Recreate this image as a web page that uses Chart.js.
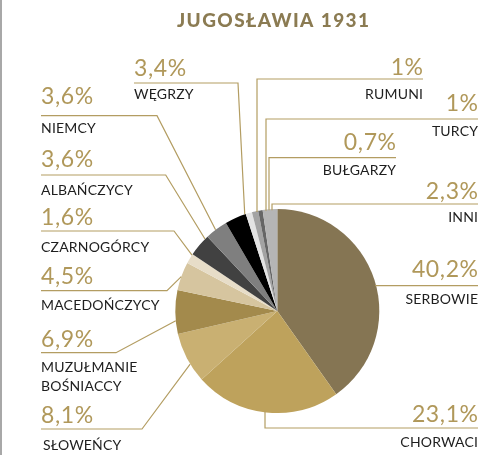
<!DOCTYPE html>
<html lang="pl">
<head>
<meta charset="utf-8">
<title>Jugosławia 1931</title>
<script src="https://cdn.jsdelivr.net/npm/chart.js@4/dist/chart.umd.min.js"></script>
<style>
  html, body { margin: 0; padding: 0; background: #fff; }
  canvas { display: block; }
</style>
</head>
<body>
<canvas id="c" width="500" height="455"></canvas>
<script>
// Struktura narodowościowa Jugosławii, 1931 (%)
const groups = ['SERBOWIE', 'CHORWACI', 'SŁOWEŃCY', 'MUZUŁMANIE BOŚNIACCY', 'MACEDOŃCZYCY',
  'CZARNOGÓRCY', 'ALBAŃCZYCY', 'NIEMCY', 'WĘGRZY', 'RUMUNI', 'TURCY', 'BUŁGARZY', 'INNI'];
const shares = [40.2, 23.1, 8.1, 6.9, 4.5, 1.6, 3.6, 3.6, 3.4, 1, 1, 0.7, 2.3];
const nameLines = [['SERBOWIE'], ['CHORWACI'], ['SŁOWEŃCY'], ['MUZUŁMANIE', 'BOŚNIACCY'], ['MACEDOŃCZYCY'],
  ['CZARNOGÓRCY'], ['ALBAŃCZYCY'], ['NIEMCY'], ['WĘGRZY'], ['RUMUNI'], ['TURCY'], ['BUŁGARZY'], ['INNI']];

const sliceColors = ['#857553', '#bea25c', '#c9b072', '#a38a4c', '#d6c59f', '#e7ddc8',
  '#414141', '#7f7f7f', '#000000', '#e3e3e3', '#a3a3a3', '#666666', '#b5b5b5'];

const GOLD = '#b0985a';
const LINE = '#b39d62';
const INK = '#1e1e1e';
const FONT = 'Lato, "Open Sans", sans-serif';

// Label placement: text anchor, leader line height, elbow, baselines.
// kind 'diag'  : horizontal rule then a slanted line to the slice edge
// kind 'vert'  : horizontal rule then a vertical drop/rise to the rim
// kind 'flat'  : horizontal rule running straight into the rim
const labelLayout = [
  { kind: 'flat', align: 'right', tx: 478, ly: 285.7, py: 277, ny: [304] },             // Serbowie
  { kind: 'vert', align: 'right', tx: 478, ly: 428, ex: 265, py: 422, ny: [447] },      // Chorwaci
  { kind: 'diag', align: 'left', tx: 41, ly: 429, ex: 142, py: 423, ny: [450], f: 0.37 },// Słoweńcy
  { kind: 'diag', align: 'left', tx: 41, ly: 352.7, ex: 116, py: 347, ny: [372, 391], f: 0.3 },
  { kind: 'diag', align: 'left', tx: 41, ly: 290.7, ex: 167, py: 284, ny: [310], f: 0.48 },
  { kind: 'diag', align: 'left', tx: 41, ly: 231, ex: 174, py: 225, ny: [252], f: 0.9 },
  { kind: 'diag', align: 'left', tx: 41, ly: 175, ex: 165.7, py: 166.7, ny: [195], f: 0.85 },
  { kind: 'diag', align: 'left', tx: 41, ly: 115.7, ex: 157, py: 104, ny: [133], f: 0.46 },
  { kind: 'diag', align: 'left', tx: 134, ly: 83, ex: 238, py: 76, ny: [99], f: 0.95 },  // Węgrzy
  { kind: 'vert', align: 'right', tx: 423, ly: 79, ex: 257, py: 75, ny: [99] },          // Rumuni
  { kind: 'vert', align: 'right', tx: 478, ly: 119, ex: 266, py: 111, ny: [136] },       // Turcy
  { kind: 'vert', align: 'right', tx: 396, ly: 157.7, ex: 269, py: 150, ny: [175] },     // Bułgarzy
  { kind: 'vert', align: 'right', tx: 478, ly: 204, ex: 272, py: 199, ny: [222] }        // Inni
];

function fmtPct(v) {
  return String(v).replace('.', ',') + '%';
}

// letter-spaced text with explicit alignment handling
function spacedText(ctx, text, x, y, spacing, align) {
  ctx.letterSpacing = spacing + 'px';
  const w = ctx.measureText(text).width - spacing;
  ctx.textAlign = 'left';
  let sx = x;
  if (align === 'center') sx = x - w / 2;
  else if (align === 'right') sx = x - w;
  ctx.fillText(text, sx, y);
  ctx.letterSpacing = '0px';
}

const calloutPlugin = {
  id: 'callouts',
  afterDraw(chart) {
    const ctx = chart.ctx;
    const arcs = chart.getDatasetMeta(0).data;
    ctx.save();
    ctx.textBaseline = 'alphabetic';

    // frame edge on the left
    ctx.fillStyle = '#a8a8a8';
    ctx.fillRect(0, 0, 2, chart.height);

    // heading
    ctx.fillStyle = '#8b7b52';
    ctx.font = '900 19px ' + FONT;
    spacedText(ctx, 'JUGOSŁAWIA 1931', 273, 26.5, 1.4, 'center');

    arcs.forEach((arc, i) => {
      const L = labelLayout[i];
      const cx = arc.x, cy = arc.y, r = arc.outerRadius;
      ctx.strokeStyle = LINE;
      ctx.lineWidth = 1.2;
      ctx.beginPath();
      if (L.kind === 'diag') {
        const a = arc.startAngle + (arc.endAngle - arc.startAngle) * L.f;
        const px = cx + r * Math.cos(a), py = cy + r * Math.sin(a);
        ctx.moveTo(L.tx, L.ly);
        ctx.lineTo(L.ex, L.ly);
        ctx.lineTo(px, py);
      } else if (L.kind === 'vert') {
        const dx = L.ex - cx;
        const h = Math.sqrt(Math.max(0, r * r - dx * dx));
        const rimY = L.ly < cy ? cy - h + 1 : cy + h - 1;
        ctx.moveTo(L.tx, L.ly);
        ctx.lineTo(L.ex, L.ly);
        ctx.lineTo(L.ex, rimY);
      } else {
        const dy = L.ly - cy;
        const rimX = cx + Math.sqrt(Math.max(0, r * r - dy * dy)) - 1;
        ctx.moveTo(L.tx, L.ly);
        ctx.lineTo(rimX, L.ly);
      }
      ctx.stroke();

      ctx.fillStyle = GOLD;
      ctx.font = '400 23px ' + FONT;
      spacedText(ctx, fmtPct(shares[i]), L.tx, L.py, 0.6, L.align);

      ctx.fillStyle = INK;
      ctx.font = '400 14px ' + FONT;
      const nx = L.tx + (L.align === 'left' && i === 2 ? 2 : 0);
      nameLines[i].forEach((t, k) => spacedText(ctx, t, nx, L.ny[k], 0.2, L.align));
    });
    ctx.restore();
  }
};

new Chart(document.getElementById('c'), {
  type: 'pie',
  data: {
    labels: groups,
    datasets: [{
      data: shares,
      backgroundColor: sliceColors,
      borderWidth: 0
    }]
  },
  options: {
    responsive: false,
    animation: false,
    layout: { padding: { left: 175.3, right: 120.7, top: 209, bottom: 42 } },
    plugins: {
      legend: { display: false },
      tooltip: { enabled: false },
      title: { display: false }
    }
  },
  plugins: [calloutPlugin]
});
</script>
</body>
</html>
